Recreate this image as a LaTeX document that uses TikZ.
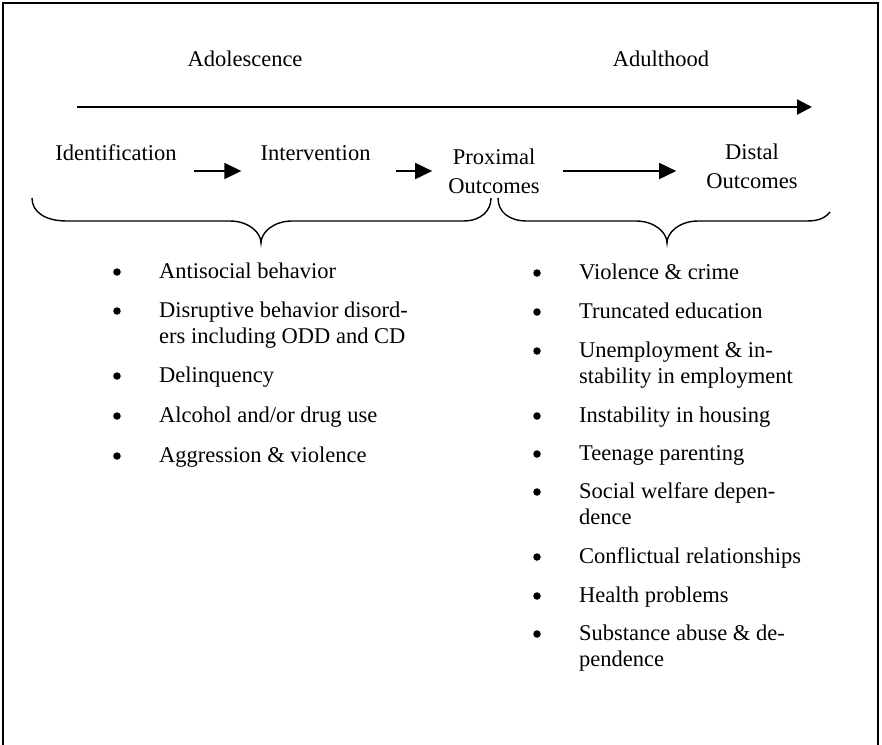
\documentclass[tikz,border=0pt]{standalone}
\usepackage{fontspec}
\setmainfont{Liberation Serif}
\usetikzlibrary{arrows.meta, positioning}

\begin{document}
\begin{tikzpicture}[
            x=1pt, y=-1pt,
            stage/.style={inner sep=0pt, anchor=base, align=center,
                font=\fontsize{22.5}{29}\selectfont},
            item/.style={inner sep=0pt, anchor=base west, align=left,
                font=\fontsize{22.5}{26.5}\selectfont},
            dot/.style={circle, fill, inner sep=0pt, minimum size=7.5pt},
            time arrow/.style={line width=2.3pt, -{Triangle[length=15pt, width=15pt]}},
            step arrow/.style={line width=1.7pt, -{Triangle[length=17pt, width=16pt]}},
            curly/.style={line width=1.4pt}
        ]

            \useasboundingbox (0,0) rectangle (882,744);
            \draw[line width=2pt] (3,760) -- (3,3) -- (878,3) -- (878,760);

            % time line
            \node[stage] (adol) at (245,66) {Adolescence};
            \node[stage] (adult) at (661,66) {Adulthood};
            \coordinate (t0) at (77,107);
            \coordinate (t1) at (812,107);
            \draw[time arrow] (t0) -- (t1);

            % stages (two-line nodes sit on their last line)
            \node[stage] (ident) at (116,160) {Identification};
            \node[stage] (interv) at (315.5,160) {Intervention};
            \node[stage] (prox) at (494,193) {Proximal\\Outcomes};
            \node[stage] (distal) at (752,188) {Distal\\Outcomes};

            \coordinate (row) at (0,171);
            \draw[step arrow] ([xshift=17pt]ident.east |- row) -- ([xshift=-19pt]interv.west |- row);
            \draw[step arrow] ([xshift=25pt]interv.east |- row) -- ([xshift=-16pt]prox.west |- row);
            \draw[step arrow] ([xshift=23pt]prox.east |- row) -- ([xshift=-30pt]distal.west |- row);

            % braces
            \draw[curly] (32,198) .. controls (32,212) and (45,221) .. (67,221) -- (230,221)
                .. controls (248,221) and (261,232) .. (261,243)
                .. controls (261,232) and (274,221) .. (292,221) -- (463,221)
                .. controls (482,221) and (491,210) .. (491,198);
            \draw[curly] (498,198) .. controls (498,212) and (509,221) .. (527,221) -- (636,221)
                .. controls (654,221) and (667,232) .. (667,243)
                .. controls (667,232) and (680,221) .. (698,221) -- (807,221)
                .. controls (820,221) and (826,217) .. (830,212);

            % proximal outcomes
            \node[item] (l1) at (159,278) {Antisocial behavior};
            \node[item] (l2) at (159,343.5) {Disruptive behavior disord-\\ers including ODD and CD};
            \node[item] (l3) at (159,382) {Delinquency};
            \node[item] (l4) at (159,422) {Alcohol and/or drug use};
            \node[item] (l5) at (159,462) {Aggression \& violence};

            \node[dot] (l1dot) at ([xshift=-42pt, yshift=6pt]l1.base west) {};
            \node[dot] (l2dot) at ([xshift=-42pt, yshift=32.5pt]l2.base west) {};
            \node[dot] (l3dot) at ([xshift=-42pt, yshift=6pt]l3.base west) {};
            \node[dot] (l4dot) at ([xshift=-42pt, yshift=6pt]l4.base west) {};
            \node[dot] (l5dot) at ([xshift=-42pt, yshift=6pt]l5.base west) {};

            % distal outcomes
            \node[item] (r1) at (579,279) {Violence \& crime};
            \node[item] (r2) at (579,318) {Truncated education};
            \node[item] (r3) at (579,383.5) {Unemployment \& in-\\stability in employment};
            \node[item] (r4) at (579,422) {Instability in housing};
            \node[item] (r5) at (579,460) {Teenage parenting};
            \node[item] (r6) at (579,524.5) {Social welfare depen-\\dence};
            \node[item] (r7) at (579,563) {Conflictual relationships};
            \node[item] (r8) at (579,602) {Health problems};
            \node[item] (r9) at (579,666.5) {Substance abuse \& de-\\pendence};

            \node[dot] (r1dot) at ([xshift=-42pt, yshift=6pt]r1.base west) {};
            \node[dot] (r2dot) at ([xshift=-42pt, yshift=6pt]r2.base west) {};
            \node[dot] (r3dot) at ([xshift=-42pt, yshift=32.5pt]r3.base west) {};
            \node[dot] (r4dot) at ([xshift=-42pt, yshift=6pt]r4.base west) {};
            \node[dot] (r5dot) at ([xshift=-42pt, yshift=6pt]r5.base west) {};
            \node[dot] (r6dot) at ([xshift=-42pt, yshift=32.5pt]r6.base west) {};
            \node[dot] (r7dot) at ([xshift=-42pt, yshift=6pt]r7.base west) {};
            \node[dot] (r8dot) at ([xshift=-42pt, yshift=6pt]r8.base west) {};
            \node[dot] (r9dot) at ([xshift=-42pt, yshift=32.5pt]r9.base west) {};

        \end{tikzpicture}
\end{document}
